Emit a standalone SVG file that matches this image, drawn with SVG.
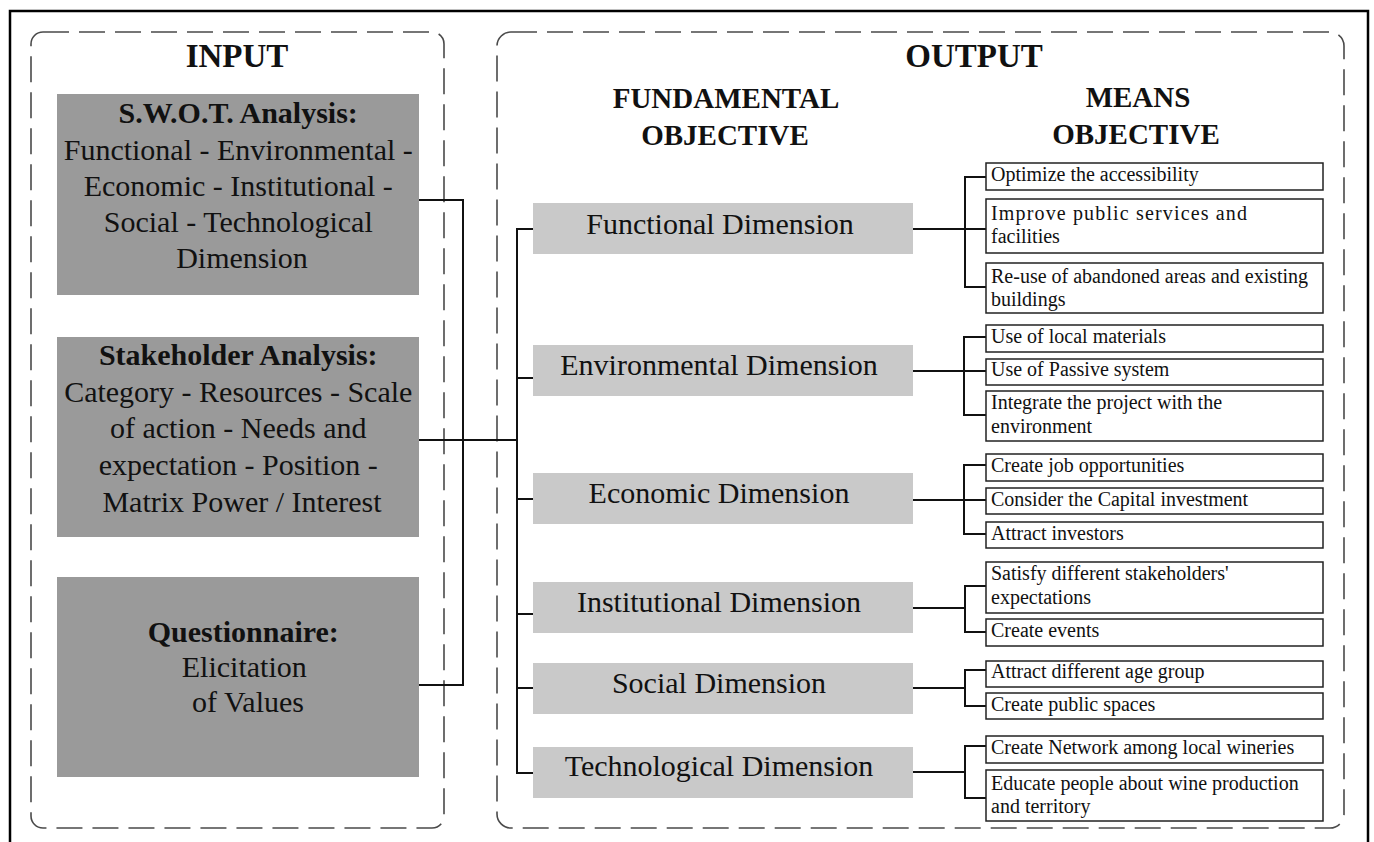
<svg xmlns="http://www.w3.org/2000/svg" width="1374" height="842" viewBox="0 0 1374 842">
  <style>
    .frame { fill: none; stroke: #000; stroke-width: 2.5; }
    .panel { fill: none; stroke: #4a4a4a; stroke-width: 1.6; stroke-dasharray: 26 10; }
    .title { font-family: "Liberation Serif", "Times New Roman", serif; font-weight: bold; font-size: 33px; fill: #111; text-anchor: middle; }
    .head { font-family: "Liberation Serif", "Times New Roman", serif; font-weight: bold; font-size: 29px; fill: #111; text-anchor: middle; }
    .in-box { fill: #9a9a9a; }
    .in-text { font-family: "Liberation Serif", "Times New Roman", serif; font-size: 30px; fill: #111; text-anchor: middle; }
    .in-text .b { font-weight: bold; }
    .dim-box { fill: #c9c9c9; }
    .dim-text { font-family: "Liberation Serif", "Times New Roman", serif; font-size: 30px; fill: #111; text-anchor: middle; }
    .mean-box { fill: #fff; stroke: #222; stroke-width: 1.5; }
    .mean-text { font-family: "Liberation Serif", "Times New Roman", serif; font-size: 20px; fill: #111; }
    .wire { fill: none; stroke: #111; stroke-width: 2; }
  </style>

  <rect width="1374" height="842" fill="#fff"/>

  <!-- outer border -->
  <rect class="frame" x="10" y="11" width="1358" height="850"/>

  <!-- panels -->
  <g id="input-panel">
    <rect class="panel" x="31" y="32" width="413" height="796" rx="12" ry="12"/>
    <text class="title" x="237" y="67">INPUT</text>
  </g>
  <g id="output-panel">
    <rect class="panel" x="497" y="32" width="847" height="796" rx="14" ry="14"/>
    <text class="title" x="974" y="67">OUTPUT</text>
    <text class="head" x="726" y="108">FUNDAMENTAL</text>
    <text class="head" x="725" y="145">OBJECTIVE</text>
    <text class="head" x="1138" y="107">MEANS</text>
    <text class="head" x="1136" y="144">OBJECTIVE</text>
  </g>

  <!-- connectors -->
  <g id="connectors">
    <!-- input bracket -->
    <polyline class="wire" points="419,200 463,200 463,685 419,685"/>
    <line class="wire" x1="419" y1="440" x2="517" y2="440"/>
    <!-- fundamental objective bus -->
    <polyline class="wire" points="533,229 517,229 517,773 533,773"/>
    <line class="wire" x1="517" y1="378" x2="533" y2="378"/>
    <line class="wire" x1="517" y1="499" x2="533" y2="499"/>
    <line class="wire" x1="517" y1="614" x2="533" y2="614"/>
    <line class="wire" x1="517" y1="688" x2="533" y2="688"/>
    <!-- functional -->
    <line class="wire" x1="913" y1="229" x2="986" y2="229"/>
    <polyline class="wire" points="986,177 965,177 965,287 986,287"/>
    <!-- environmental -->
    <line class="wire" x1="913" y1="371" x2="986" y2="371"/>
    <polyline class="wire" points="986,337 964,337 964,415 986,415"/>
    <!-- economic -->
    <line class="wire" x1="913" y1="500" x2="986" y2="500"/>
    <polyline class="wire" points="986,465 964,465 964,534 986,534"/>
    <!-- institutional -->
    <line class="wire" x1="913" y1="608" x2="965" y2="608"/>
    <polyline class="wire" points="986,586 965,586 965,632 986,632"/>
    <!-- social -->
    <line class="wire" x1="913" y1="688" x2="965" y2="688"/>
    <polyline class="wire" points="986,670 965,670 965,706 986,706"/>
    <!-- technological -->
    <line class="wire" x1="913" y1="772" x2="965" y2="772"/>
    <polyline class="wire" points="986,746 965,746 965,798 986,798"/>
  </g>

  <!-- input nodes -->
  <g id="swot">
    <rect class="in-box" x="57" y="94" width="362" height="201"/>
    <text class="in-text">
      <tspan class="b" x="242" y="123">S.W.O.T. Analysis:</tspan>
      <tspan x="242" y="160">Functional - Environmental -</tspan>
      <tspan x="242" y="196">Economic - Institutional -</tspan>
      <tspan x="242" y="232">Social - Technological</tspan>
      <tspan x="242" y="268">Dimension</tspan>
    </text>
  </g>
  <g id="stakeholder">
    <rect class="in-box" x="57" y="337" width="362" height="200"/>
    <text class="in-text">
      <tspan class="b" x="242" y="365">Stakeholder Analysis:</tspan>
      <tspan x="242" y="402">Category - Resources - Scale</tspan>
      <tspan x="242" y="438">of action - Needs and</tspan>
      <tspan x="242" y="475">expectation - Position -</tspan>
      <tspan x="242" y="512">Matrix Power / Interest</tspan>
    </text>
  </g>
  <g id="questionnaire">
    <rect class="in-box" x="57" y="577" width="362" height="200"/>
    <text class="in-text">
      <tspan class="b" x="247" y="642">Questionnaire:</tspan>
      <tspan x="248" y="677">Elicitation</tspan>
      <tspan x="248" y="712">of Values</tspan>
    </text>
  </g>

  <!-- fundamental objectives -->
  <g id="dim-functional">
    <rect class="dim-box" x="533" y="203" width="380" height="51"/>
    <text class="dim-text" x="720" y="234">Functional Dimension</text>
  </g>
  <g id="dim-environmental">
    <rect class="dim-box" x="533" y="345" width="380" height="51"/>
    <text class="dim-text" x="719" y="375">Environmental Dimension</text>
  </g>
  <g id="dim-economic">
    <rect class="dim-box" x="533" y="473" width="380" height="51"/>
    <text class="dim-text" x="719" y="503">Economic Dimension</text>
  </g>
  <g id="dim-institutional">
    <rect class="dim-box" x="533" y="582" width="380" height="51"/>
    <text class="dim-text" x="719" y="612">Institutional Dimension</text>
  </g>
  <g id="dim-social">
    <rect class="dim-box" x="533" y="663" width="380" height="51"/>
    <text class="dim-text" x="719" y="693">Social Dimension</text>
  </g>
  <g id="dim-technological">
    <rect class="dim-box" x="533" y="747" width="380" height="51"/>
    <text class="dim-text" x="719" y="776">Technological Dimension</text>
  </g>

  <!-- means objectives -->
  <g id="m-accessibility">
    <rect class="mean-box" x="986" y="163" width="337" height="27"/>
    <text class="mean-text" x="991" y="181">Optimize the accessibility</text>
  </g>
  <g id="m-services">
    <rect class="mean-box" x="986" y="199" width="337" height="54"/>
    <text class="mean-text"><tspan x="991" y="220" textLength="256" lengthAdjust="spacing">Improve public services and</tspan><tspan x="991" y="243">facilities</tspan></text>
  </g>
  <g id="m-reuse">
    <rect class="mean-box" x="986" y="263" width="337" height="50"/>
    <text class="mean-text"><tspan x="991" y="283">Re-use of abandoned areas and existing</tspan><tspan x="991" y="306">buildings</tspan></text>
  </g>
  <g id="m-materials">
    <rect class="mean-box" x="986" y="325" width="337" height="27"/>
    <text class="mean-text" x="991" y="343">Use of local materials</text>
  </g>
  <g id="m-passive">
    <rect class="mean-box" x="986" y="359" width="337" height="26"/>
    <text class="mean-text" x="991" y="376">Use of Passive system</text>
  </g>
  <g id="m-integrate">
    <rect class="mean-box" x="986" y="391" width="337" height="50"/>
    <text class="mean-text"><tspan x="991" y="409">Integrate the project with the</tspan><tspan x="991" y="433">environment</tspan></text>
  </g>
  <g id="m-jobs">
    <rect class="mean-box" x="986" y="454" width="337" height="27"/>
    <text class="mean-text" x="991" y="472">Create job opportunities</text>
  </g>
  <g id="m-capital">
    <rect class="mean-box" x="986" y="488" width="337" height="26"/>
    <text class="mean-text" x="991" y="506">Consider the Capital investment</text>
  </g>
  <g id="m-investors">
    <rect class="mean-box" x="986" y="522" width="337" height="26"/>
    <text class="mean-text" x="991" y="540">Attract investors</text>
  </g>
  <g id="m-stakeholders">
    <rect class="mean-box" x="986" y="562" width="337" height="51"/>
    <text class="mean-text"><tspan x="991" y="580">Satisfy different stakeholders'</tspan><tspan x="991" y="604">expectations</tspan></text>
  </g>
  <g id="m-events">
    <rect class="mean-box" x="986" y="619" width="337" height="27"/>
    <text class="mean-text" x="991" y="637">Create events</text>
  </g>
  <g id="m-age">
    <rect class="mean-box" x="986" y="661" width="337" height="26"/>
    <text class="mean-text" x="991" y="678">Attract different age group</text>
  </g>
  <g id="m-public">
    <rect class="mean-box" x="986" y="693" width="337" height="26"/>
    <text class="mean-text" x="991" y="711">Create public spaces</text>
  </g>
  <g id="m-network">
    <rect class="mean-box" x="986" y="736" width="337" height="27"/>
    <text class="mean-text" x="991" y="754">Create Network among local wineries</text>
  </g>
  <g id="m-educate">
    <rect class="mean-box" x="986" y="770" width="337" height="51"/>
    <text class="mean-text"><tspan x="991" y="790">Educate people about wine production</tspan><tspan x="991" y="813">and territory</tspan></text>
  </g>
</svg>
